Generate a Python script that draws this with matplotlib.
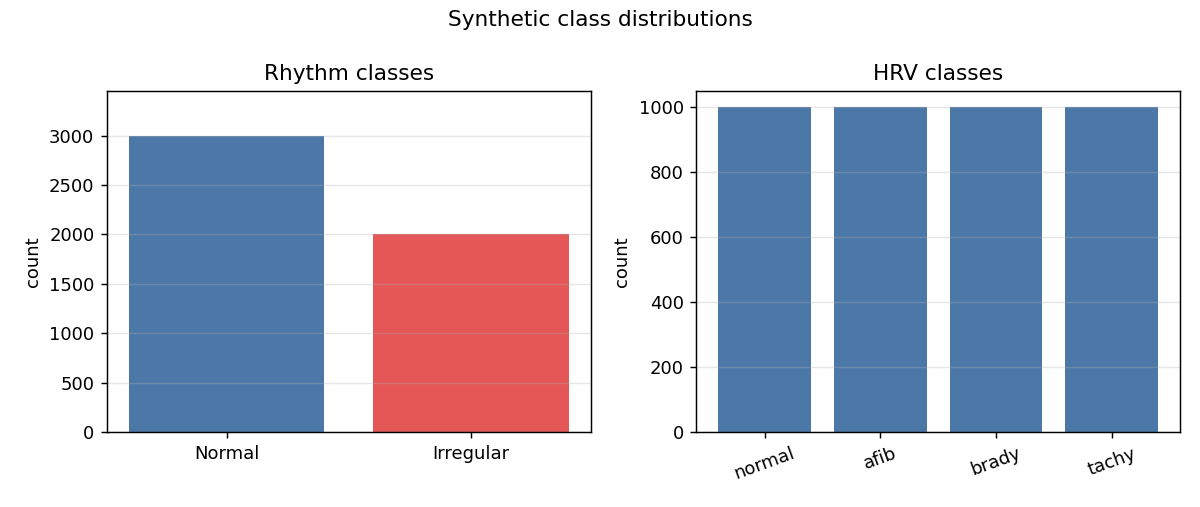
import numpy as np
import matplotlib.pyplot as plt

rhythm_labels = ['Normal', 'Irregular']
rhythm_counts = [3000, 2000]
hrv_labels = ['normal', 'afib', 'brady', 'tachy']
hrv_counts = [1000, 1000, 1000, 1000]

fig, (ax1, ax2) = plt.subplots(1, 2, figsize=(1200 / 130, 507 / 130), dpi=130)
fig.subplots_adjust(left=0.0892, right=0.9833, top=0.82, bottom=0.148, wspace=0.219)

# rhythm panel
ax1.bar(rhythm_labels, rhythm_counts, color=['#4C78A8', '#E45756'])
ax1.set_ylim(0, max(rhythm_counts) * 1.15)
ax1.set_title('Rhythm classes')
ax1.set_ylabel('count')
ax1.grid(axis='y', alpha=0.3)

# hrv panel
ax2.bar(hrv_labels, hrv_counts, color='#4C78A8')
ax2.set_title('HRV classes')
ax2.set_ylabel('count')
ax2.grid(axis='y', alpha=0.3)
ax2.tick_params(axis='x', rotation=20)

fig.suptitle('Synthetic class distributions')

plt.savefig('out.png', dpi=130)
